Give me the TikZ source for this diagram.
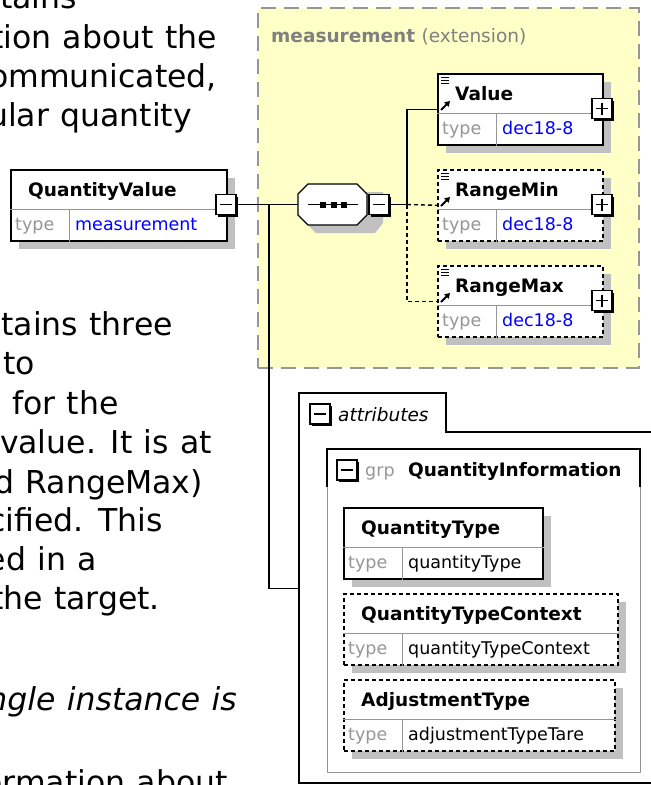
\documentclass[tikz,border=0pt]{standalone}
\usepackage{fontspec}
\setmainfont{DejaVu Sans}
\newfontfamily\xbodyfam{DejaVu Sans}[WordSpace=1.13]
\usetikzlibrary{shadows,calc,arrows.meta}
\definecolor{yel}{RGB}{255,255,200}
\definecolor{shc}{RGB}{192,192,192}
\definecolor{tgray}{RGB}{150,150,150}
\definecolor{xgray}{RGB}{128,128,128}
\definecolor{bdgray}{RGB}{150,150,150}
\definecolor{xblue}{RGB}{0,0,255}
\tikzset{
 conn/.style={line width=1.4pt},
 dconn/.style={line width=1.4pt, dash pattern=on 4pt off 3pt},
 ebox/.style={draw, line width=1.6pt, fill=white, minimum height=71pt, inner sep=0pt, anchor=north west,
   drop shadow={shadow xshift=8pt, shadow yshift=-8pt, fill=shc, opacity=1}},
 optbox/.style={ebox, dash pattern=on 4pt off 3pt},
 divl/.style={draw=tgray, line width=1pt},
 btnbox/.style={draw, fill=white, line width=1.2pt, minimum size=20pt, inner sep=0pt,
   drop shadow={shadow xshift=2pt, shadow yshift=-2pt, fill=black, opacity=1}},
 titlef/.style={font=\fontsize{18.5}{20}\selectfont\bfseries, anchor=base west, inner sep=0pt},
 typef/.style={font=\fontsize{17.5}{20}\selectfont, anchor=base west, inner sep=0pt, text=tgray},
 valf/.style={font=\fontsize{17.5}{20}\selectfont, anchor=base west, inner sep=0pt},
 body/.style={font=\xbodyfam\fontsize{31.5}{36}\selectfont, anchor=base east, inner sep=0pt},
 bodyw/.style={body, anchor=base west},
}
\newcommand\xelem[8]{%
 \node[#8, minimum width=#4pt] (#1) at (#2,#3) {};
 \draw[divl] ($(#1.north west)+(0,40)$) -- ($(#1.north east)+(0,40)$);
 \draw[divl] ($(#1.north west)+(59,40)$) -- ($(#1.south west)+(59,0)$);
 \node[titlef] (#1-n) at ($(#1.north west)+(18,27)$) {#5};
 \node[typef] (#1-k) at ($(#1.north west)+(5,61)$) {type};
 \node[valf, text=#7] (#1-v) at ($(#1.north west)+(65,61)$) {#6};
}
\newcommand\xbtn[3]{%
 \node[btnbox] (#1) at (#2) {};
 \draw[line width=1.5pt] ($(#1.center)+(-6,0)$) -- ($(#1.center)+(6,0)$);
 \ifnum#3=1 \draw[line width=1.5pt] ($(#1.center)+(0,-6)$) -- ($(#1.center)+(0,6)$);\fi
}
\newcommand\xicons[1]{%
 \foreach \yy in {4,7,10} {\draw[line width=1pt] ($(#1.north west)+(4,\yy)$) -- ++(8,0);}
 \draw[line width=1.8pt, -{Triangle[length=5pt,width=6pt]}] ($(#1.north west)+(4,37)$) -- ($(#1.north west)+(13,28)$);
}
\begin{document}
\begin{tikzpicture}[x=1pt,y=-1pt]
\useasboundingbox (0,0) rectangle (651,785);
\begin{scope}
\clip (0,0) rectangle (651,785);
% body text
\node[body] (b1) at (77,8) {tains};
\node[body] (b2) at (217,48) {tion about the};
\node[body] (b3) at (217,87) {ommunicated,};
\node[body] (b4) at (192,126) {ular quantity};
\node[body] (b5) at (173,335) {tains three};
\node[bodyw] (b6) at (3,374) {to};
\node[bodyw] (b7) at (12,414) {for the};
\node[body] (b8) at (212,453) {value. It is at};
\node[body] (b9) at (203,493) {d RangeMax)};
\node[body] (b10) at (163,531) {cified. This};
\node[body] (b11) at (97,570) {ed in a};
\node[body] (b12) at (160,609) {the target.};
\node[body, font=\xbodyfam\fontsize{31.5}{36}\selectfont\itshape] (b13) at (237,710) {single instance is};
\node[body] (b14) at (228,793) {formation about};
% extension box
\node[draw=bdgray, fill=yel, line width=2pt, dash pattern=on 15pt off 8pt, minimum width=381pt, minimum height=360pt, anchor=north west, inner sep=0pt] (ext) at (257,7) {};
\node[anchor=base west, inner sep=0pt, text=xgray, font=\fontsize{18.5}{20}\selectfont] (exth) at (271,42) {\bfseries measurement \mdseries(extension)};
% elements
\xelem{qv}{10}{169}{216}{QuantityValue}{measurement}{xblue}{ebox}
\xelem{val}{437}{73}{165}{Value}{dec18-8}{xblue}{ebox}
\xelem{rmin}{437}{169}{165}{RangeMin}{dec18-8}{xblue}{optbox}
\xelem{rmax}{437}{265}{165}{RangeMax}{dec18-8}{xblue}{optbox}
\xicons{val}\xicons{rmin}\xicons{rmax}
% sequence compositor
\node[minimum width=69pt, minimum height=41pt, inner sep=0pt] (seq) at (332.5,204.5) {};
\fill[shc] (316,192) -- (383,192) -- (383,223) -- (375,233) -- (316,233) -- (306,223) -- (306,202) -- cycle;
\draw[fill=white, line width=1.4pt] (308,184) -- (357,184) -- (367,194) -- (367,215) -- (357,225) -- (308,225) -- (298,215) -- (298,194) -- cycle;
\draw[line width=1.4pt] (308,204.5) -- (358,204.5);
\foreach \sx in {323,333.5,344} {\fill (\sx-3,201.5) rectangle (\sx+3,207.5);}
% attributes frame
\node[anchor=north west, minimum width=400pt, minimum height=390pt, inner sep=0pt] (attrf) at (299,393) {};
\draw[line width=1.5pt] (700,432) -- (446,432) -- (446,393) -- (299,393) -- (299,783) -- (700,783);
\node[anchor=base west, inner sep=0pt, font=\fontsize{18.5}{20}\selectfont\itshape] (attrt) at (338,421) {attributes};
% group
\node[draw=tgray, line width=1.3pt, minimum width=313pt, minimum height=323pt, anchor=north west, inner sep=0pt] (grp) at (327,449) {};
\draw[line width=1.3pt] (327,487) -- (327,449) -- (640,449) -- (640,487);
\node[anchor=base west, inner sep=0pt, text=tgray, font=\fontsize{17.5}{20}\selectfont] (grpk) at (365,476) {grp};
\node[titlef] (grpn) at (408,476) {QuantityInformation};
\xelem{qt}{343}{507}{199}{QuantityType}{quantityType}{black}{ebox}
\xelem{qtc}{343}{593}{274}{QuantityTypeContext}{quantityTypeContext}{black}{optbox}
\xelem{adj}{343}{679}{271}{AdjustmentType}{adjustmentTypeTare}{black}{optbox}
% connectors
\coordinate (j1) at (269,204.5);
\coordinate (j2) at (407,204.5);
\draw[conn] (226,204.5) -- (seq.west);
\draw[conn] (j1) |- (attrf.west);
\draw[conn] (379,204.5) -- (j2);
\draw[conn] (j2) |- (val.west);
\draw[dconn] (j2) -- (rmin.west);
\draw[dconn] (j2) |- (rmax.west);
% buttons
\xbtn{qvb}{226,204.5}{0}
\xbtn{seqb}{379,204.5}{0}
\xbtn{valb}{602,108.5}{1}
\xbtn{rminb}{602,204.5}{1}
\xbtn{rmaxb}{602,300.5}{1}
\xbtn{attrb}{320,414}{0}
\xbtn{grpb}{347,470}{0}
\end{scope}
\end{tikzpicture}
\end{document}
